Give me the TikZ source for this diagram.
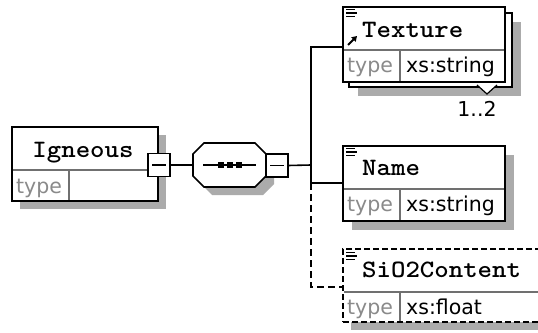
\documentclass[tikz,border=0pt]{standalone}
\usepackage{fontspec}
\setmainfont{DejaVu Sans}
\newfontfamily\monof[FakeStretch=1.1]{lmmonolt10-bold.otf}
\usetikzlibrary{calc,arrows.meta}
\definecolor{shadowgray}{HTML}{ABABAB}
\definecolor{cellline}{HTML}{707070}
\definecolor{typegray}{HTML}{8A8A8A}
\tikzset{
  box/.style={draw=black, line width=1.6pt, fill=white, inner sep=0pt, outer sep=0pt, anchor=north west},
  dbox/.style={box, dash pattern=on 6pt off 3pt},
  shadowbox/.style={fill=shadowgray, draw=none, inner sep=0pt, outer sep=0pt, anchor=north west},
  minusbox/.style={draw=black, line width=1.6pt, fill=white, inner sep=0pt, outer sep=0pt, minimum width=22pt, minimum height=23pt},
  cell/.style={draw=cellline, line width=1.3pt},
  title/.style={font=\monof\fontsize{25}{25}\selectfont, anchor=base west, inner sep=0pt},
  typelbl/.style={font=\fontsize{20.5}{20.5}\selectfont, text=typegray, anchor=base west, inner sep=0pt},
  typeval/.style={font=\fontsize{20.5}{20.5}\selectfont, anchor=base west, inner sep=0pt},
  conn/.style={line width=1.6pt},
  dconn/.style={line width=1.6pt, dash pattern=on 7pt off 4pt},
  iconline/.style={line width=1.2pt},
}
\begin{document}
\begin{tikzpicture}[x=1pt,y=-1pt]
\useasboundingbox (0,0) rectangle (538,332);
\clip (0,0) rectangle (538,332);
\fill[white] (0,0) rectangle (538,332);

% ---------- Igneous ----------
\node[shadowbox, minimum width=146pt, minimum height=74pt] (ignS) at (20,135) {};
\node[box, minimum width=146pt, minimum height=74pt] (ign) at (12,127) {};
\draw[cell] ($(ign.north west)+(1,43)$) -- ($(ign.north east)+(-1,43)$);
\draw[cell] ($(ign.north west)+(57,43)$) -- ($(ign.south west)+(57,-1)$);
\node[title, anchor=base] (ignT) at (83,157) {Igneous};
\node[typelbl] (ignTy) at ($(ign.south west)+(4,-8)$) {type};
\node[minusbox] (ignM) at (159,165) {};
\draw[line width=1.5pt] ($(ignM.center)+(-7,0)$) -- ($(ignM.center)+(7,0)$);

% ---------- sequence ----------
\fill[shadowgray] (201,162) -- (212,151) -- (263,151) -- (274,162) -- (274,184) -- (263,195) -- (212,195) -- (201,184) -- cycle;
\node[minimum width=73pt, minimum height=44pt, inner sep=0pt, outer sep=0pt] (seq) at (229.5,165) {};
\draw[line width=1.6pt, fill=white] (193,154) -- (204,143) -- (255,143) -- (266,154) -- (266,176) -- (255,187) -- (204,187) -- (193,176) -- cycle;
\draw[line width=1.4pt] (203,165) -- (256,165);
\fill (218,162) rectangle (224,168);
\fill (227,162) rectangle (233,168);
\fill (236,162) rectangle (242,168);
\node[minusbox] (seqM) at (277,165.5) {};
\draw[line width=1.5pt] ($(seqM.center)+(-7,0)$) -- ($(seqM.center)+(7,0)$);

\draw[conn] (ignM.east) -- (seq.west);

% ---------- Texture ----------
\node[shadowbox, minimum width=163pt, minimum height=74pt] (texS) at (358,22) {};
\node[box, minimum width=163pt, minimum height=74pt] (texBack) at (349,13) {};
\node[box, minimum width=162pt, minimum height=75pt] (tex) at (343,7) {};
\draw[cell] ($(tex.north west)+(1,43)$) -- ($(tex.north east)+(-1,43)$);
\draw[cell] ($(tex.north west)+(57,43)$) -- ($(tex.south west)+(57,-1)$);
\fill[white] (477,85) -- (497,85) -- (487,94) -- cycle;
\draw[line width=1.2pt] (477,85) -- (487,94) -- (497,85);
\node[typeval, anchor=base] (texCard) at (477,116) {1..2};
\draw[iconline] (346,9.5) -- (355,9.5) (346,13) -- (357,13) (346,16.5) -- (355,16.5);
\draw[line width=1.8pt, -{Triangle[length=5pt,width=6pt]}] (348,45) -- (357,36);
\node[title] (texT) at (362,37) {Texture};
\node[typelbl] (texTy) at ($(tex.north west)+(4,65)$) {type};
\node[typeval] (texTv) at ($(tex.north west)+(63,65)$) {xs:string};

% ---------- Name ----------
\node[shadowbox, minimum width=162pt, minimum height=75pt] (nameS) at (352,155) {};
\node[box, minimum width=162pt, minimum height=75pt] (name) at (343,146) {};
\draw[cell] ($(name.north west)+(1,43)$) -- ($(name.north east)+(-1,43)$);
\draw[cell] ($(name.north west)+(57,43)$) -- ($(name.south west)+(57,-1)$);
\draw[iconline] (346,148.5) -- (355,148.5) (346,152) -- (357,152) (346,155.5) -- (355,155.5);
\node[title] (nameT) at (362,175) {Name};
\node[typelbl] (nameTy) at ($(name.north west)+(4,65)$) {type};
\node[typeval] (nameTv) at ($(name.north west)+(63,65)$) {xs:string};

% ---------- SiO2Content ----------
\node[shadowbox, minimum width=220pt, minimum height=73pt] (sioS) at (351,257) {};
\node[dbox, minimum width=220pt, minimum height=73pt] (sio) at (343,249) {};
\draw[cell] ($(sio.north west)+(1,43)$) -- ($(sio.north east)+(-1,43)$);
\draw[cell] ($(sio.north west)+(57,43)$) -- ($(sio.south west)+(57,-1)$);
\draw[iconline] (346,252.5) -- (355,252.5) (346,256) -- (357,256) (346,259.5) -- (355,259.5);
\node[title] (sioT) at (362,277) {SiO2Content};
\node[typelbl] (sioTy) at ($(sio.north west)+(4,65)$) {type};
\node[typeval] (sioTv) at ($(sio.north west)+(63,65)$) {xs:float};

% ---------- connectors ----------
\coordinate (branch) at (311,165);
\coordinate (texIn) at ($(tex.north west)+(0,40)$);
\coordinate (nameIn) at ($(name.north west)+(0,37)$);
\coordinate (sioIn) at ($(sio.north west)+(0,38)$);
\draw[conn] (seqM.east) -- (branch);
\draw[conn] (branch) |- (texIn);
\draw[conn] (branch) |- (nameIn);
\draw[dconn] (nameIn -| branch) |- (sioIn);
\end{tikzpicture}
\end{document}
